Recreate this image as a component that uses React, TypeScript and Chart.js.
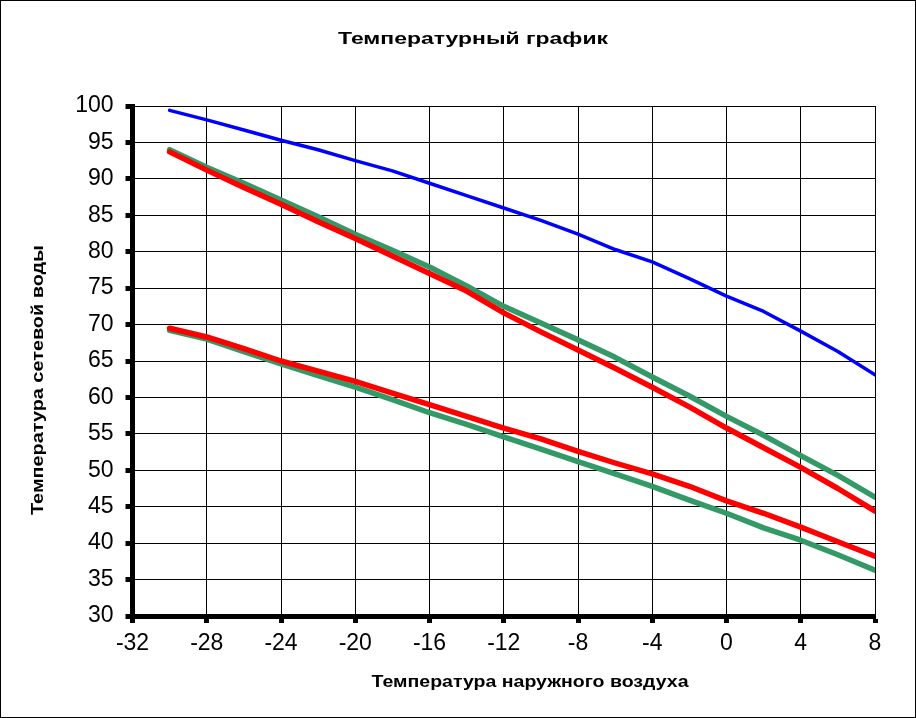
import React, { useEffect, useRef } from "react";
import { Chart, registerables } from "chart.js";

Chart.register(...registerables);

const TITLE = "Температурный график";
const X_TITLE = "Температура наружного воздуха";
const Y_TITLE = "Температура сетевой воды";

const outdoorTemps = [-30, -28, -26, -24, -22, -20, -18, -16, -14, -12, -10, -8, -6, -4, -2, 0, 2, 4, 6, 8];

const blueSupply = [99.4, 98.1, 96.7, 95.3, 94.0, 92.5, 91.1, 89.4, 87.7, 86.0, 84.3, 82.4, 80.3, 78.6, 76.3, 73.9, 71.8, 69.1, 66.3, 63.1];
const redUpper = [93.7, 91.2, 88.8, 86.5, 84.1, 81.8, 79.4, 77.0, 74.6, 71.6, 69.0, 66.5, 64.0, 61.4, 58.7, 55.8, 53.1, 50.4, 47.5, 44.4];
const redLower = [69.5, 68.3, 66.7, 65.0, 63.6, 62.2, 60.6, 59.0, 57.4, 55.8, 54.3, 52.6, 51.0, 49.5, 47.8, 45.8, 44.1, 42.2, 40.2, 38.2];
const greenUpper = [94.0, 91.6, 89.4, 87.1, 84.8, 82.4, 80.2, 77.9, 75.3, 72.5, 70.2, 67.9, 65.5, 62.8, 60.2, 57.4, 54.8, 52.0, 49.3, 46.3];
const greenLower = [69.2, 68.0, 66.3, 64.6, 63.0, 61.4, 59.7, 57.9, 56.3, 54.6, 52.9, 51.2, 49.5, 47.8, 45.9, 44.1, 42.1, 40.4, 38.4, 36.3];

const FONT = "'Liberation Sans', Arial, sans-serif";

const toPoints = (ys: number[]) => outdoorTemps.map((x, i) => ({ x, y: ys[i] }));

export default function App() {
  const ref = useRef<HTMLCanvasElement | null>(null);

  useEffect(() => {
    document.body.style.margin = "0";
    const canvas = ref.current;
    if (!canvas) return;

    const drawStretched = (ctx: any, text: string, x: number, y: number, sx: number, rotate = false) => {
      ctx.save();
      ctx.translate(x, y);
      if (rotate) ctx.rotate(-Math.PI / 2);
      ctx.scale(sx, 1);
      ctx.fillText(text, 0, 0);
      ctx.restore();
    };

    const titlesPlugin = {
      id: "titlesPlugin",
      afterDraw(chart: any) {
        const ctx = chart.ctx;
        ctx.save();
        ctx.fillStyle = "#000";
        ctx.textAlign = "center";
        ctx.textBaseline = "middle";
        ctx.font = `bold 17px ${FONT}`;
        drawStretched(ctx, TITLE, 473, 39, 1.35);
        ctx.font = `bold 16px ${FONT}`;
        drawStretched(ctx, X_TITLE, 530, 683, 1.22);
        drawStretched(ctx, Y_TITLE, 39, 380, 1.24, true);
        ctx.restore();
        ctx.save();
        ctx.strokeStyle = "#000";
        ctx.lineWidth = 1;
        ctx.strokeRect(0.5, 0.5, chart.width - 1, chart.height - 1);
        ctx.restore();
      },
    };

    const lineDs = (data: number[], color: string, width: number) => ({
      data: toPoints(data),
      borderColor: color,
      backgroundColor: color,
      borderWidth: width,
      pointRadius: 0,
      tension: 0,
      borderCapStyle: "round" as const,
      borderJoinStyle: "round" as const,
      fill: false,
    });

    const chart = new Chart(canvas, {
      type: "line",
      data: {
        datasets: [
          lineDs(blueSupply, "#0000FF", 3.5),
          lineDs(redUpper, "#FF0000", 5.5),
          lineDs(redLower, "#FF0000", 5.5),
          lineDs(greenUpper, "#339966", 5.5),
          lineDs(greenLower, "#339966", 5.5),
        ],
      },
      options: {
        responsive: false,
        animation: false,
        devicePixelRatio: 1,
        layout: { padding: { top: 106, left: 0, right: 41, bottom: 0 } },
        plugins: {
          legend: { display: false },
          title: { display: false },
          tooltip: { enabled: false },
        },
        scales: {
          x: {
            type: "linear",
            min: -32,
            max: 8,
            afterFit: (s: any) => { s.height = 102; },
            border: { display: true, color: "#000", width: 5 },
            grid: { color: "#000", lineWidth: 1, drawTicks: true, tickLength: 7, tickWidth: 5, tickColor: "#000" },
            ticks: {
              stepSize: 4,
              color: "#000",
              padding: 7,
              font: { family: FONT, size: 23 },
              maxRotation: 0,
              autoSkip: false,
            },
          },
          y: {
            type: "linear",
            min: 30,
            max: 100,
            afterFit: (s: any) => { s.width = 132.5; },
            border: { display: true, color: "#000", width: 5 },
            grid: { color: "#000", lineWidth: 1, drawTicks: true, tickLength: 7, tickWidth: 5, tickColor: "#000" },
            ticks: {
              stepSize: 5,
              color: "#000",
              padding: 12,
              font: { family: FONT, size: 23 },
              autoSkip: false,
            },
          },
        },
      },
      plugins: [titlesPlugin],
    });

    return () => chart.destroy();
  }, []);

  return (
    <div style={{ width: 916, height: 718, background: "#fff" }}>
      <canvas ref={ref} width={916} height={718} style={{ display: "block" }} />
    </div>
  );
}
